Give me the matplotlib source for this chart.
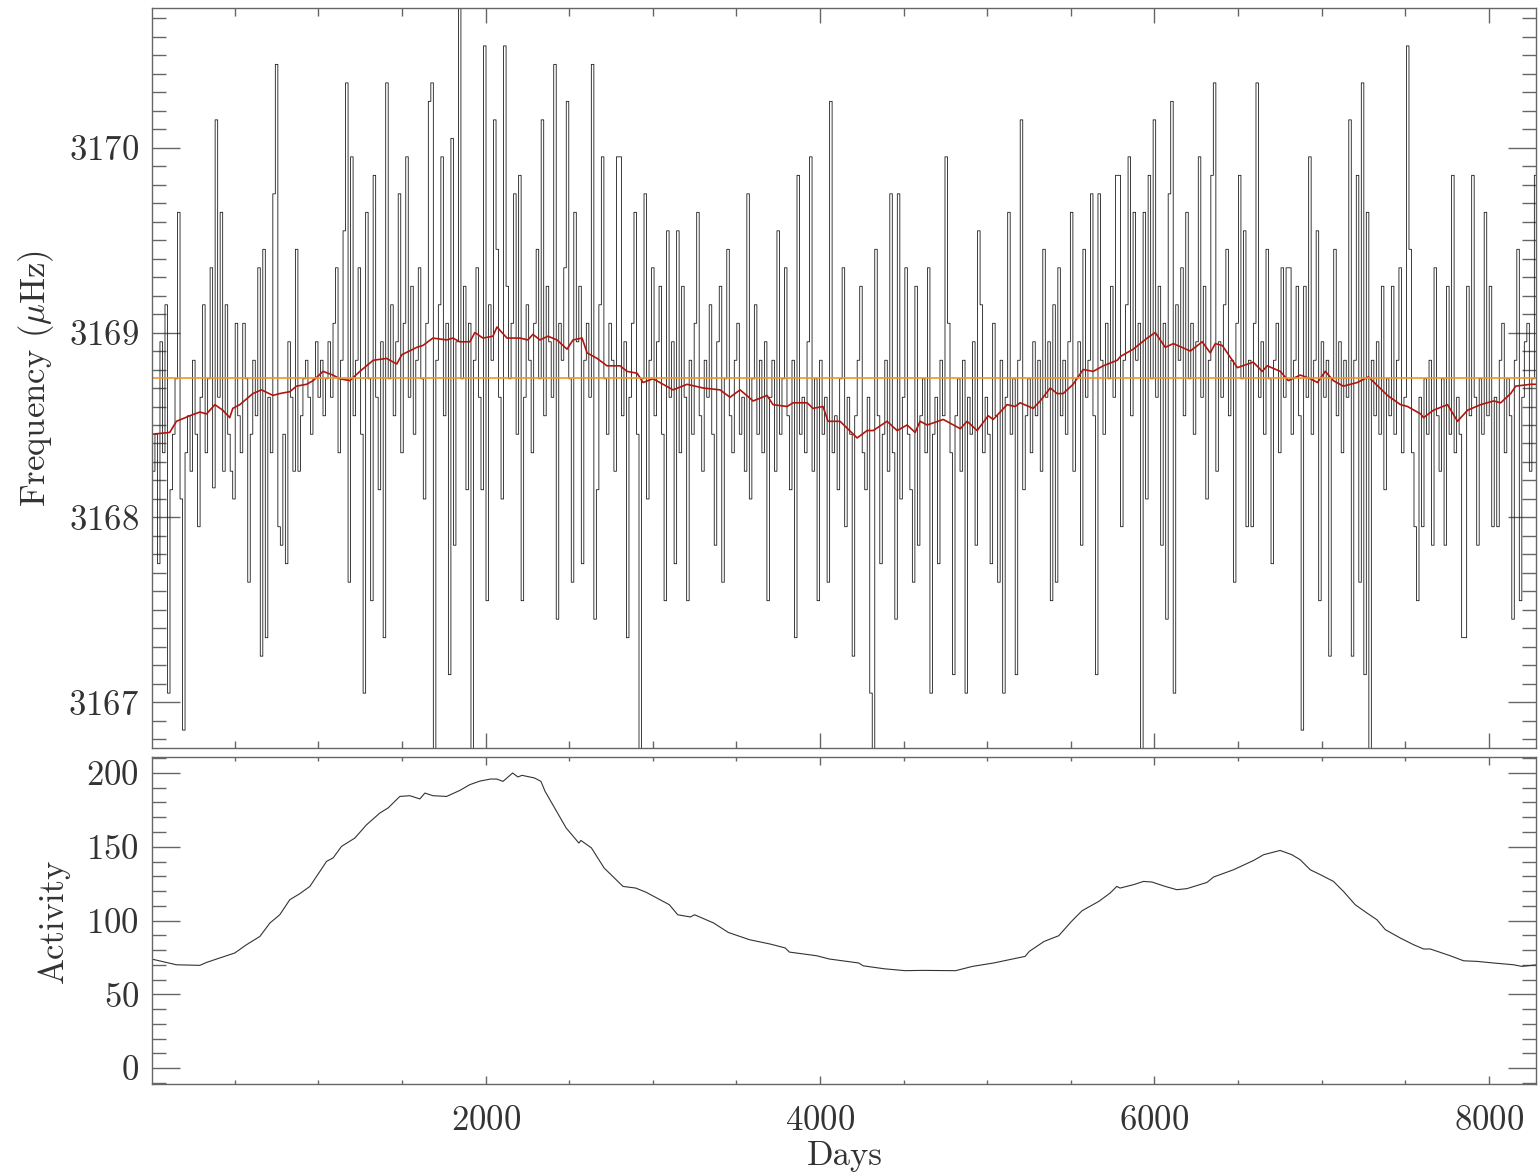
import matplotlib
matplotlib.use('Agg')
import matplotlib.pyplot as plt
from matplotlib.ticker import MultipleLocator
import numpy as np

plt.rcParams['font.family'] = ['cmr10', 'DejaVu Serif']
plt.rcParams['mathtext.fontset'] = 'cm'
plt.rcParams['axes.formatter.use_mathtext'] = True

# frequency samples, one every 15 days starting at day 0
freq_step = 15
freq = [
    3168.55, 3168.25, 3168.45, 3167.75, 3168.95, 3168.35, 3169.15, 3167.05, 3168.15, 3168.45,
    3168.75, 3169.65, 3168.10, 3166.85, 3168.35, 3168.55, 3168.25, 3168.85, 3168.45, 3167.95,
    3168.65, 3169.15, 3168.35, 3168.75, 3169.35, 3168.16, 3170.15, 3168.65, 3169.65, 3168.25,
    3169.15, 3168.45, 3168.25, 3168.10, 3169.05, 3168.55, 3168.35, 3169.05, 3168.75, 3167.65,
    3168.45, 3168.85, 3168.55, 3169.35, 3167.25, 3169.45, 3167.35, 3168.65, 3168.35, 3169.75,
    3170.45, 3167.95, 3167.85, 3168.45, 3167.75, 3168.95, 3168.65, 3168.25, 3169.45, 3168.25,
    3168.55, 3168.75, 3168.85, 3168.65, 3168.45, 3168.75, 3168.95, 3168.65, 3168.85, 3168.55,
    3168.75, 3168.95, 3168.65, 3169.05, 3169.35, 3168.35, 3168.85, 3169.55, 3170.35, 3167.65,
    3169.95, 3168.55, 3168.85, 3169.35, 3168.45, 3167.05, 3169.65, 3168.75, 3167.55, 3169.85,
    3168.65, 3168.15, 3168.95, 3167.35, 3170.35, 3168.75, 3169.15, 3168.55, 3168.95, 3169.75,
    3168.35, 3169.05, 3169.95, 3168.65, 3169.25, 3168.45, 3168.85, 3169.35, 3168.75, 3168.10,
    3169.05, 3170.25, 3170.35, 3166.50, 3168.85, 3169.15, 3169.95, 3168.55, 3169.05, 3167.15,
    3170.05, 3167.85, 3168.95, 3170.85, 3168.75, 3169.25, 3168.15, 3169.05, 3166.50, 3168.85,
    3169.35, 3168.65, 3168.15, 3170.55, 3167.55, 3169.15, 3168.85, 3170.15, 3169.45, 3168.65,
    3168.10, 3170.55, 3169.25, 3168.75, 3169.05, 3169.75, 3168.45, 3169.85, 3167.55, 3168.65,
    3169.15, 3168.85, 3168.35, 3169.05, 3169.45, 3168.75, 3170.15, 3168.55, 3169.25, 3168.95,
    3168.65, 3170.45, 3167.45, 3169.05, 3168.85, 3169.35, 3170.25, 3168.75, 3167.65, 3169.65,
    3168.95, 3169.25, 3167.75, 3168.85, 3169.05, 3168.65, 3170.45, 3167.45, 3168.15, 3169.15,
    3169.95, 3168.75, 3168.45, 3169.05, 3168.85, 3168.25, 3169.95, 3169.95, 3168.55, 3168.95,
    3167.35, 3168.65, 3169.05, 3169.65, 3168.45, 3166.50, 3168.75, 3169.75, 3168.10, 3168.85,
    3169.35, 3168.55, 3168.95, 3169.25, 3168.45, 3167.55, 3169.55, 3168.65, 3168.95, 3167.75,
    3169.55, 3168.35, 3169.25, 3168.65, 3167.55, 3168.85, 3168.45, 3169.05, 3169.65, 3168.55,
    3168.25, 3168.85, 3168.65, 3169.15, 3168.45, 3167.85, 3168.95, 3169.25, 3167.65, 3168.75,
    3169.45, 3168.55, 3168.35, 3168.85, 3169.05, 3168.45, 3168.65, 3168.25, 3169.75, 3168.10,
    3168.75, 3169.15, 3168.45, 3168.85, 3168.35, 3168.95, 3167.55, 3168.65, 3168.85, 3168.25,
    3169.55, 3168.45, 3168.75, 3169.35, 3168.55, 3168.15, 3168.85, 3167.35, 3169.85, 3168.45,
    3168.65, 3168.35, 3168.95, 3169.95, 3168.25, 3168.75, 3167.55, 3168.85, 3168.45, 3168.65,
    3167.65, 3170.25, 3168.35, 3168.55, 3168.15, 3168.75, 3169.35, 3167.95, 3168.65, 3168.45,
    3167.25, 3168.55, 3168.85, 3169.25, 3168.35, 3168.15, 3168.65, 3167.05, 3166.50, 3169.45,
    3168.55, 3167.75, 3168.45, 3168.85, 3168.25, 3169.75, 3168.35, 3167.45, 3169.75, 3168.10,
    3168.65, 3169.35, 3168.45, 3168.15, 3167.65, 3169.25, 3167.85, 3168.55, 3168.75, 3168.35,
    3169.35, 3167.05, 3168.45, 3168.65, 3167.75, 3168.85, 3168.55, 3169.95, 3169.05, 3168.35,
    3167.15, 3168.55, 3168.75, 3168.25, 3168.85, 3167.05, 3168.65, 3168.45, 3168.95, 3167.85,
    3169.55, 3169.15, 3168.35, 3168.65, 3168.45, 3167.75, 3169.05, 3168.55, 3167.65, 3168.85,
    3167.05, 3168.65, 3169.65, 3168.45, 3168.75, 3167.15, 3168.85, 3170.15, 3168.15, 3168.55,
    3168.75, 3168.35, 3168.95, 3168.55, 3168.85, 3168.25, 3169.45, 3168.65, 3168.95, 3167.55,
    3169.15, 3167.65, 3169.35, 3168.55, 3168.85, 3168.45, 3168.95, 3169.65, 3168.25, 3168.75,
    3168.95, 3167.85, 3169.45, 3168.65, 3168.85, 3169.75, 3168.55, 3167.15, 3169.75, 3168.85,
    3168.45, 3169.05, 3168.75, 3169.25, 3168.65, 3169.85, 3169.85, 3167.95, 3168.85, 3169.15,
    3169.95, 3168.55, 3169.65, 3168.85, 3169.05, 3166.50, 3169.65, 3168.10, 3169.85, 3168.75,
    3170.15, 3168.65, 3169.25, 3167.85, 3169.05, 3167.45, 3169.75, 3170.25, 3167.05, 3169.15,
    3168.85, 3169.35, 3168.55, 3169.65, 3168.75, 3169.05, 3168.45, 3168.95, 3169.95, 3168.65,
    3169.25, 3168.10, 3168.85, 3169.85, 3170.35, 3168.25, 3168.95, 3168.65, 3169.15, 3169.45,
    3168.55, 3168.85, 3167.65, 3169.05, 3169.85, 3168.75, 3169.55, 3167.95, 3168.85, 3167.95,
    3169.05, 3170.35, 3168.65, 3168.95, 3168.45, 3169.45, 3168.75, 3167.75, 3168.85, 3169.05,
    3168.35, 3169.35, 3168.65, 3169.35, 3169.35, 3168.45, 3168.85, 3169.25, 3168.55, 3166.85,
    3169.25, 3168.65, 3169.95, 3168.45, 3168.85, 3169.55, 3167.55, 3168.95, 3168.65, 3168.85,
    3167.25, 3168.75, 3169.45, 3168.55, 3168.95, 3168.35, 3168.85, 3168.65, 3170.15, 3167.25,
    3168.85, 3169.85, 3167.65, 3170.35, 3167.15, 3169.65, 3166.75, 3168.85, 3168.55, 3168.95,
    3168.45, 3169.25, 3168.15, 3168.75, 3168.55, 3169.25, 3168.45, 3168.85, 3169.35, 3168.35,
    3168.65, 3170.55, 3169.45, 3168.35, 3167.95, 3167.55, 3168.65, 3167.95, 3168.75, 3168.45,
    3168.85, 3167.85, 3169.35, 3168.55, 3168.25, 3168.75, 3167.85, 3169.25, 3168.45, 3169.85,
    3168.35, 3168.65, 3168.45, 3167.35, 3167.35, 3169.25, 3168.55, 3169.85, 3168.65, 3167.85,
    3168.75, 3168.45, 3169.65, 3168.55, 3169.25, 3167.95, 3168.65, 3167.95, 3168.85, 3169.05,
    3168.35, 3168.75, 3168.55, 3167.45, 3168.85, 3169.45, 3167.55, 3168.65, 3168.95, 3169.05,
    3168.25, 3168.75, 3169.85,
]
freq_days = np.arange(len(freq)) * freq_step

# running mean (red)
mean_days = [4, 111, 151, 231, 291, 331, 381, 428, 470, 488, 530, 608, 660, 728, 769, 829,
             869, 929, 969, 1028, 1087, 1128, 1188, 1248, 1328, 1408, 1469, 1499, 1589, 1625,
             1685, 1768, 1804, 1846, 1906, 1936, 1984, 2044, 2068, 2128, 2205, 2253, 2283,
             2325, 2373, 2427, 2487, 2523, 2577, 2607, 2667, 2726, 2804, 2846, 2906, 2942,
             3002, 3121, 3205, 3301, 3402, 3462, 3522, 3600, 3683, 3719, 3803, 3839, 3923,
             3958, 4018, 4048, 4120, 4222, 4282, 4318, 4401, 4461, 4521, 4569, 4599, 4641,
             4737, 4839, 4880, 4940, 5006, 5036, 5119, 5167, 5197, 5275, 5317, 5377, 5418,
             5454, 5514, 5574, 5634, 5694, 5778, 5796, 5873, 5957, 6005, 6065, 6113, 6215,
             6286, 6334, 6364, 6406, 6496, 6591, 6645, 6675, 6753, 6801, 6873, 6933, 6975,
             7022, 7070, 7130, 7214, 7280, 7394, 7472, 7514, 7592, 7610, 7669, 7753, 7813,
             7873, 7951, 8029, 8071, 8131, 8161, 8250, 8290]
mean_freq = [3168.45, 3168.46, 3168.52, 3168.55, 3168.57, 3168.56, 3168.61, 3168.58, 3168.54,
             3168.59, 3168.61, 3168.67, 3168.69, 3168.66, 3168.67, 3168.68, 3168.71, 3168.72,
             3168.74, 3168.79, 3168.77, 3168.75, 3168.74, 3168.79, 3168.85, 3168.86, 3168.83,
             3168.88, 3168.92, 3168.93, 3168.97, 3168.96, 3168.97, 3168.95, 3168.95, 3169.00,
             3168.97, 3168.98, 3169.03, 3168.97, 3168.97, 3168.96, 3168.99, 3168.96, 3168.98,
             3168.96, 3168.91, 3168.96, 3168.97, 3168.89, 3168.86, 3168.82, 3168.82, 3168.79,
             3168.78, 3168.73, 3168.75, 3168.69, 3168.72, 3168.70, 3168.69, 3168.65, 3168.69,
             3168.63, 3168.66, 3168.61, 3168.60, 3168.62, 3168.62, 3168.59, 3168.60, 3168.52,
             3168.52, 3168.43, 3168.47, 3168.47, 3168.52, 3168.47, 3168.50, 3168.46, 3168.52,
             3168.50, 3168.53, 3168.48, 3168.52, 3168.47, 3168.55, 3168.53, 3168.61, 3168.60,
             3168.62, 3168.59, 3168.63, 3168.70, 3168.67, 3168.67, 3168.72, 3168.80, 3168.79,
             3168.82, 3168.85, 3168.87, 3168.91, 3168.97, 3169.00, 3168.92, 3168.94, 3168.90,
             3168.95, 3168.89, 3168.94, 3168.93, 3168.81, 3168.84, 3168.79, 3168.82, 3168.79,
             3168.74, 3168.77, 3168.75, 3168.73, 3168.79, 3168.74, 3168.71, 3168.73, 3168.76,
             3168.66, 3168.61, 3168.60, 3168.56, 3168.54, 3168.58, 3168.61, 3168.52, 3168.58,
             3168.61, 3168.63, 3168.62, 3168.67, 3168.71, 3168.72, 3168.72]
overall_mean = 3168.753

act_days = [2, 151, 291, 331, 410, 500, 570, 650, 710, 769, 829, 889, 949, 1009, 1049, 1088,
            1138, 1218, 1288, 1368, 1417, 1487, 1547, 1607, 1637, 1685, 1767, 1846, 1906,
            1966, 2030, 2067, 2104, 2162, 2193, 2218, 2293, 2331, 2356, 2419, 2482, 2558,
            2570, 2633, 2709, 2822, 2898, 2961, 3099, 3149, 3225, 3250, 3364, 3452, 3578,
            3704, 3792, 3817, 3981, 4056, 4232, 4258, 4383, 4509, 4610, 4811, 4912, 5038,
            5227, 5252, 5340, 5428, 5504, 5567, 5668, 5735, 5775, 5795, 5875, 5935, 5985,
            6065, 6134, 6194, 6314, 6354, 6473, 6593, 6653, 6752, 6822, 6872, 6932, 6992,
            7071, 7131, 7201, 7271, 7331, 7381, 7471, 7550, 7610, 7650, 7770, 7849, 7929,
            8029, 8148, 8198, 8288]
activity = [73.9, 70.0, 69.6, 71.6, 74.6, 78.0, 83.6, 89.2, 98.3, 103.9, 114.1, 118.2, 123.1,
            133.3, 140.1, 142.4, 150.2, 155.9, 164.9, 172.9, 176.3, 184.1, 184.6, 182.4, 186.4,
            184.6, 184.1, 188.2, 192.1, 194.5, 195.9, 195.9, 194.3, 200.0, 197.3, 198.4, 196.6,
            194.3, 187.5, 175.1, 162.7, 152.5, 154.3, 149.2, 135.6, 123.1, 122.0, 119.1, 110.7,
            103.9, 102.4, 103.9, 98.3, 91.9, 87.0, 84.0, 81.4, 78.6, 76.1, 73.9, 71.2, 69.3,
            67.3, 66.0, 66.2, 66.0, 68.9, 71.2, 75.7, 79.1, 85.8, 89.7, 99.4, 106.6, 113.0,
            118.6, 123.1, 122.0, 124.3, 126.5, 126.1, 123.1, 120.9, 121.6, 125.8, 129.5, 134.4,
            140.7, 144.6, 147.5, 144.6, 141.2, 134.4, 131.1, 126.5, 119.7, 110.7, 105.1, 100.5,
            93.8, 88.1, 83.6, 80.7, 80.7, 76.1, 72.7, 72.3, 71.2, 70.0, 68.9, 70.0]

fs = 25

fig = plt.figure(figsize=(15.4, 11.76), dpi=100)
ax1 = fig.add_axes([0.0985, 0.3642, 0.8992, 0.6287])
ax2 = fig.add_axes([0.0985, 0.0780, 0.8992, 0.2785])

ax1.step(freq_days, freq, where='mid', color='#1a1a1a', lw=0.6)
ax1.plot(mean_days, mean_freq, color='#b0160e', lw=1.2)
ax1.axhline(overall_mean, color='#f0952a', lw=1.2)
ax1.set_xlim(3, 8285)
ax1.set_ylim(3166.755, 3170.753)
ax1.yaxis.set_major_locator(MultipleLocator(1))
ax1.yaxis.set_minor_locator(MultipleLocator(0.1))
ax1.set_ylabel(r'Frequency ($\mu$Hz)', fontsize=fs, color='#333333')
ax1.yaxis.set_label_coords(-0.069, 0.5)
ax1.tick_params(labelbottom=False)

ax2.plot(act_days, activity, color='#333333', lw=0.8)
ax2.set_xlim(3, 8285)
ax2.set_ylim(-11, 211)
ax2.yaxis.set_major_locator(MultipleLocator(50))
ax2.yaxis.set_minor_locator(MultipleLocator(10))
ax2.set_ylabel('Activity', fontsize=fs, color='#333333')
ax2.yaxis.set_label_coords(-0.059, 0.5)
ax2.set_xlabel('Days', fontsize=fs, color='#333333')
ax2.xaxis.set_label_coords(0.5006, -0.17)

for ax in (ax1, ax2):
    ax.xaxis.set_major_locator(MultipleLocator(2000))
    ax.xaxis.set_minor_locator(MultipleLocator(500))
    for s in ax.spines.values():
        s.set_color('#666666')
        s.set_linewidth(1.0)
    ax.tick_params(which='both', direction='in', top=True, right=True,
                   color='#666666', width=1.0, labelsize=fs, labelcolor='#333333')
    ax.tick_params(axis='y', which='major', length=20, pad=9)
    ax.tick_params(axis='y', which='minor', length=10)

ax1.tick_params(axis='x', which='major', length=10.8)
ax1.tick_params(axis='x', which='minor', length=5.4)
ax2.tick_params(axis='x', which='major', length=5.8, pad=15)
ax2.tick_params(axis='x', which='minor', length=2.9)

fig.savefig('out.png', dpi=100)
